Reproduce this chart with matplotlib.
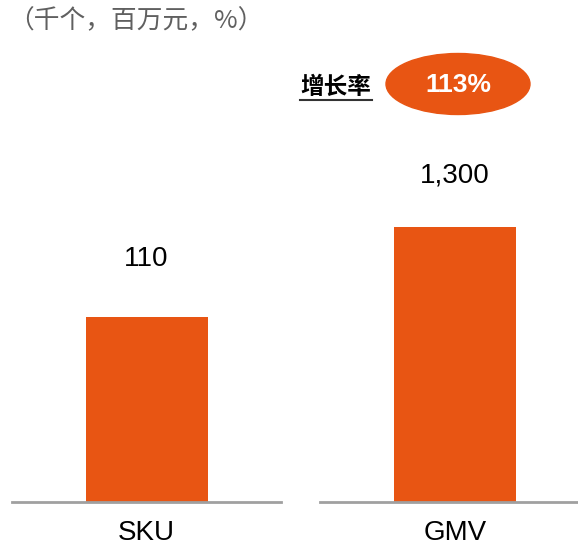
import matplotlib
matplotlib.use("Agg")
import matplotlib.pyplot as plt
from matplotlib.patches import Ellipse
from matplotlib.lines import Line2D

plt.rcParams['font.family'] = ['Liberation Sans', 'Noto Sans CJK SC', 'DejaVu Sans']

categories = ["SKU", "GMV"]
values = [110, 1300]
value_labels = ["110", "1,300"]
growth_label = "增长率"
growth_value = "113%"
unit_note = "（千个，百万元，%）"

bar_color = "#E85513"
W, H = 578, 549

fig = plt.figure(figsize=(W / 100, H / 100), dpi=100)

# each bar has its own axis and scale (px: left, right, top of bar)
axes_px = [(12, 281), (320, 590)]
bar_top_px = [317, 227]
base_px = 502
top_px = 102
label_offsets = [42, 37]

for i, (cat, v) in enumerate(zip(categories, values)):
    x0, x1 = axes_px[i]
    ax = fig.add_axes([x0 / W, 1 - base_px / H, (x1 - x0) / W, (base_px - top_px) / H])
    ax.bar([0], [v], width=122 / (x1 - x0), color=bar_color, zorder=1)
    ax.set_xlim(-0.5, 0.5)
    ax.set_ylim(0, v * (base_px - top_px) / (base_px - bar_top_px[i]))
    for s in ["top", "left", "right"]:
        ax.spines[s].set_visible(False)
    ax.spines["bottom"].set_color("#a0a0a0")
    ax.spines["bottom"].set_linewidth(2)
    ax.spines["bottom"].set_zorder(3)
    ax.set_yticks([])
    ax.set_xticks([0])
    ax.set_xticklabels([cat], fontsize=20)
    ax.tick_params(axis="x", length=0, pad=13)
    ax.annotate(value_labels[i], (0, v), xytext=(0, label_offsets[i]),
                textcoords="offset points", ha="center", va="center", fontsize=20)
    ax.patch.set_visible(False)

fig.text(8 / W, 1 - 21 / H, unit_note, fontsize=18.5, color="#606060", style="italic",
         family=['Noto Sans CJK SC', 'DejaVu Sans'], va="center", ha="left")

fig.text(336 / W, 1 - 87 / H, growth_label, fontsize=17, fontweight="bold",
         family=['Noto Sans CJK SC', 'DejaVu Sans'], ha="center", va="center")
fig.add_artist(Line2D([300 / W, 372 / W], [1 - 100 / H, 1 - 100 / H],
                      color="#333333", lw=1.5, transform=fig.transFigure))

fig.add_artist(Ellipse((458 / W, 1 - 84 / H), 144 / W, 61 / H,
                       color=bar_color, transform=fig.transFigure))
fig.text(458 / W, 1 - 85 / H, growth_value, fontsize=19, fontweight="bold", color="white",
         family=['Liberation Sans Narrow', 'Liberation Sans'], ha="center", va="center")

fig.savefig("out.png", dpi=100)
